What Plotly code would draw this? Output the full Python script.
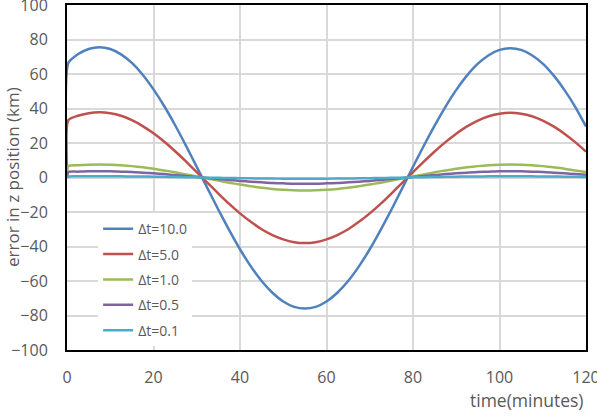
import plotly.graph_objects as go

time_min = [0, 0.3, 2.5, 5, 7.5, 10, 12.5, 15, 17.5, 20, 22.5, 25, 27.5, 30, 32.5, 35, 37.5, 40,
            42.5, 45, 47.5, 50, 52.5, 55, 57.5, 60, 62.5, 65, 67.5, 70, 72.5, 75, 77.5, 80,
            82.5, 85, 87.5, 90, 92.5, 95, 97.5, 100, 102.5, 105, 107.5, 110, 112.5, 115, 117.5, 120]

dt_10 = [0, 66.4, 71.4, 74.5, 75.5, 74.5, 71.4, 66.4, 59.6, 51.1, 41.3, 30.3, 18.5, 6.2,
         -6.3, -18.7, -30.5, -41.6, -51.5, -60.0, -66.8, -71.9, -75.0, -76.0, -75.0, -71.9,
         -66.8, -60.0, -51.5, -41.6, -30.5, -18.7, -6.3,
         6.2, 18.4, 30.1, 41.0, 50.8, 59.2, 66.0, 70.9, 74.0, 75.0, 74.0, 70.9, 66.0, 59.2,
         50.8, 41.0, 29.6]

dt_5 = [0, 33.2, 35.8, 37.3, 37.8, 37.3, 35.8, 33.2, 29.8, 25.6, 20.7, 15.2, 9.3, 3.1,
        -3.1, -9.3, -15.3, -20.8, -25.7, -30.0, -33.4, -35.9, -37.5, -38.0, -37.5, -35.9,
        -33.4, -30.0, -25.7, -20.8, -15.3, -9.3, -3.1,
        3.1, 9.2, 15.1, 20.5, 25.4, 29.6, 33.0, 35.5, 37.0, 37.5, 37.0, 35.5, 33.0, 29.6,
        25.4, 20.5, 15.0]

dt_1 = [0, 6.6, 7.1, 7.4, 7.5, 7.4, 7.1, 6.6, 5.9, 5.1, 4.1, 3.0, 1.8, 0.6,
        -0.6, -1.8, -3.0, -4.1, -5.1, -5.9, -6.6, -7.1, -7.4, -7.5, -7.4, -7.1,
        -6.6, -5.9, -5.1, -4.1, -3.0, -1.8, -0.6,
        0.6, 1.8, 3.0, 4.1, 5.1, 5.9, 6.6, 7.1, 7.4, 7.5, 7.4, 7.1, 6.6, 5.9,
        5.1, 4.1, 3.2]

dt_05 = [0, 3.2, 3.4, 3.6, 3.6, 3.6, 3.4, 3.2, 2.8, 2.4, 2.0, 1.4, 0.9, 0.3,
         -0.3, -0.9, -1.4, -2.0, -2.4, -2.8, -3.2, -3.4, -3.6, -3.6, -3.6, -3.4,
         -3.2, -2.8, -2.4, -2.0, -1.4, -0.9, -0.3,
         0.3, 0.9, 1.4, 2.0, 2.4, 2.8, 3.2, 3.4, 3.6, 3.6, 3.6, 3.4, 3.2, 2.8,
         2.4, 2.0, 1.6]

dt_01 = [0, 0.6, 0.7, 0.7, 0.7, 0.7, 0.7, 0.6, 0.6, 0.5, 0.4, 0.3, 0.2, 0.1,
         -0.1, -0.2, -0.3, -0.4, -0.5, -0.6, -0.6, -0.7, -0.7, -0.7, -0.7, -0.7,
         -0.6, -0.6, -0.5, -0.4, -0.3, -0.2, -0.1,
         0.1, 0.2, 0.3, 0.4, 0.5, 0.6, 0.6, 0.7, 0.7, 0.7, 0.7, 0.7, 0.6, 0.6,
         0.5, 0.4, 0.3]

series_names = ["Δt=10.0", "Δt=5.0", "Δt=1.0", "Δt=0.5", "Δt=0.1"]
series_values = [dt_10, dt_5, dt_1, dt_05, dt_01]
series_colors = ["#4F81BD", "#C0504D", "#9BBB59", "#8064A2", "#4BACC6"]

x_ticks = [0, 20, 40, 60, 80, 100, 120]
y_ticks = [-100, -80, -60, -40, -20, 0, 20, 40, 60, 80, 100]

fig = go.Figure()
for i, (name, vals, col) in enumerate(zip(series_names, series_values, series_colors)):
    fig.add_trace(go.Scatter(x=time_min, y=vals, mode="lines", name=name,
                             legendgroup=f"g{i}",
                             line=dict(color=col, width=2.5, shape="spline", smoothing=0.6)))

font_family = "Open Sans"
fig.update_layout(
    width=597, height=416,
    margin=dict(l=67, r=11, t=5, b=66, autoexpand=False),
    paper_bgcolor="white", plot_bgcolor="white",
    font=dict(family=font_family, color="#595959"),
    showlegend=True,
    legend=dict(x=0.06, y=0.397, xanchor="left", yanchor="top",
                bgcolor="white", borderwidth=0,
                font=dict(size=14, color="#595959", family=font_family),
                traceorder="grouped", tracegroupgap=4.2),
    xaxis=dict(range=[0, 120], tickvals=x_ticks, showgrid=True, gridcolor="#D9D9D9",
               gridwidth=1.5, showline=True, linecolor="black", linewidth=2, mirror=True,
               zeroline=False, ticks="", ticklabelstandoff=12, ticklabeloverflow="allow",
               automargin=False, tickfont=dict(size=16, color="#595959")),
    yaxis=dict(range=[-100, 100], tickvals=y_ticks, showgrid=True, gridcolor="#D9D9D9",
               gridwidth=1.5, showline=True, linecolor="black", linewidth=2, mirror=True,
               zeroline=False, ticks="", ticklabelstandoff=14, ticklabeloverflow="allow",
               automargin=False, tickfont=dict(size=16, color="#595959")),
    annotations=[
        dict(text="error in z position (km)", xref="paper", yref="paper",
             x=-0.105, y=0.5, xanchor="center", yanchor="middle", textangle=-90,
             showarrow=False, font=dict(size=17, color="#595959", family=font_family)),
        dict(text="time(minutes)", xref="paper", yref="paper",
             x=1.0, y=-0.145, xanchor="right", yanchor="middle",
             showarrow=False, font=dict(size=17.5, color="#595959", family=font_family)),
    ],
)

fig.write_html("out.html")
